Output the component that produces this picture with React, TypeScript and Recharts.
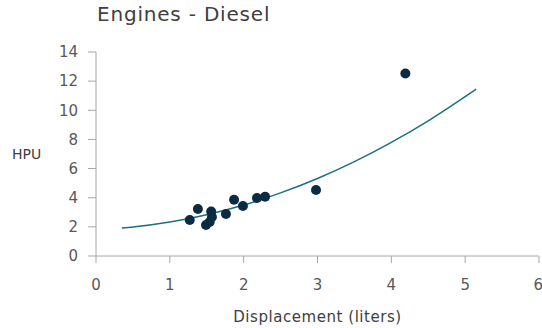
import React from "react";
import { ComposedChart, Scatter, Line, XAxis, YAxis } from "recharts";

const displacement = [1.27, 1.38, 1.49, 1.54, 1.56, 1.57, 1.76, 1.87, 1.99, 2.18, 2.29, 2.98, 4.19];
const hpu = [2.47, 3.23, 2.13, 2.33, 3.06, 2.68, 2.88, 3.86, 3.43, 3.98, 4.07, 4.53, 12.52];

const trendX = [0.35, 0.5, 1, 1.5, 2, 2.5, 3, 3.5, 4, 4.5, 5, 5.15];
const trendY = [1.92, 1.99, 2.33, 2.83, 3.5, 4.33, 5.32, 6.48, 7.8, 9.28, 10.93, 11.46];

const xTicks = [0, 1, 2, 3, 4, 5, 6];
const yTicks = [0, 2, 4, 6, 8, 10, 12, 14];

const points = displacement.map((x, i) => ({ x, y: hpu[i] }));
const trend = trendX.map((x, i) => ({ x, y: trendY[i] }));

const FONT = "'DejaVu Sans', Verdana, sans-serif";
const tickStyle = { fill: "#595959", fontSize: 15, fontFamily: FONT };

export default function App() {
  return (
    <div style={{ position: "relative", width: 542, height: 328, fontFamily: FONT }}>
      <style>{`body{margin:0}`}</style>
      <div
        style={{
          position: "absolute",
          left: 97,
          top: 0,
          fontSize: 20,
          letterSpacing: 0.8,
          lineHeight: "28px",
          color: "#404040",
          fontFamily: FONT,
        }}
      >
        Engines - Diesel
      </div>
      <ComposedChart width={542} height={328} margin={{ top: 52, right: 3, bottom: 0, left: 0 }}>
        <XAxis
          type="number"
          dataKey="x"
          domain={[0, 6]}
          ticks={xTicks}
          allowDataOverflow
          tick={tickStyle}
          tickSize={7}
          tickMargin={16}
          stroke="#a6a6a6"
          height={72}
          label={{ value: "Displacement (liters)", position: "insideBottom", offset: 6, fill: "#404040", fontSize: 15, letterSpacing: 0.55, fontFamily: FONT }}
        />
        <YAxis
          type="number"
          dataKey="y"
          domain={[0, 14]}
          ticks={yTicks}
          tick={tickStyle}
          tickSize={8}
          tickMargin={10}
          stroke="#a6a6a6"
          width={96}
          label={{ value: "HPU", angle: 0, position: "insideLeft", offset: 12, fill: "#404040", fontSize: 14, fontFamily: FONT }}
        />
        <Line
          data={trend}
          dataKey="y"
          type="monotone"
          stroke="#1b6f88"
          strokeWidth={1.5}
          dot={false}
          activeDot={false}
          isAnimationActive={false}
        />
        <Scatter data={points} dataKey="y" fill="#0c2b43" isAnimationActive={false} shape={(p: any) => <circle cx={p.cx} cy={p.cy} r={5} fill="#0c2b43" />} />
      </ComposedChart>
    </div>
  );
}
